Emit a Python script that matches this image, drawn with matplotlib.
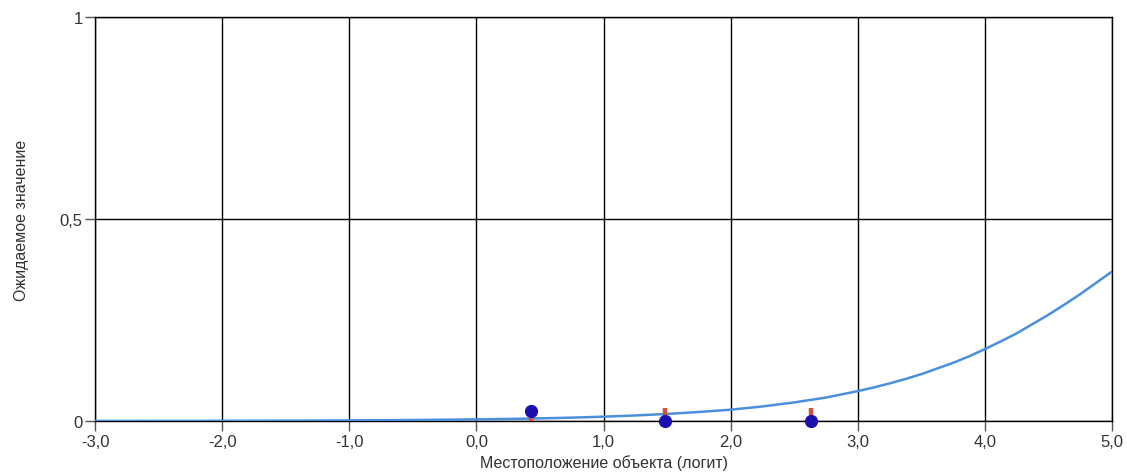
import matplotlib.pyplot as plt

plt.rcParams['font.family'] = ['Liberation Sans', 'DejaVu Sans']

# expected score curve
curve_x = [-3.0, -2.5, -2.0, -1.5, -1.0, -0.5, 0.0, 0.25, 0.5, 0.75, 1.0, 1.25,
           1.5, 1.75, 2.0, 2.25, 2.5, 2.75, 3.0, 3.125, 3.25, 3.375, 3.5, 3.625,
           3.75, 3.875, 4.0, 4.125, 4.25, 4.375, 4.5, 4.625, 4.75, 4.875, 5.0]
curve_y = [0.0002, 0.0003, 0.0005, 0.0009, 0.0015, 0.0024, 0.004, 0.0051, 0.0065,
           0.0083, 0.0107, 0.0137, 0.0175, 0.0223, 0.028, 0.036, 0.046, 0.058,
           0.074, 0.083, 0.093, 0.104, 0.116, 0.130, 0.144, 0.160, 0.178, 0.197,
           0.217, 0.240, 0.263, 0.288, 0.314, 0.342, 0.370]

# observed points
obs_x = [0.43, 1.48, 2.63]
obs_y = [0.025, 0.0, 0.0]
bar_lo = [0.0, 0.0, 0.0]
bar_hi = [0.025, 0.033, 0.033]

xticks = [-3, -2, -1, 0, 1, 2, 3, 4, 5]
xlabels = ['-3,0', '-2,0', '-1,0', '0,0', '1,0', '2,0', '3,0', '4,0', '5,0']
yticks = [0, 0.5, 1]
ylabels = ['0', '0,5', '1']

fig = plt.figure(figsize=(11.27, 4.77), dpi=100)
ax = fig.add_axes([0.0843, 0.1153, 0.9024, 0.847])

ax.plot(curve_x, curve_y, color='#4a8fdc', linewidth=1.8, zorder=3)
ax.vlines(obs_x, bar_lo, bar_hi, color='#d2553a', linewidth=3.2, zorder=4, clip_on=False)
ax.plot(obs_x, obs_y, 'o', color='#1a10b0', markersize=8.5, zorder=5, clip_on=False)

ax.set_xlim(-3, 5)
ax.set_ylim(0, 1)
ax.set_xticks(xticks)
ax.set_xticklabels(xlabels)
ax.set_yticks(yticks)
ax.set_yticklabels(ylabels)
ax.grid(True, color='black', linewidth=1)
ax.set_axisbelow(True)
for s in ax.spines.values():
    s.set_color('black')
    s.set_linewidth(1)
ax.tick_params(direction='out', length=7, width=1, color='#555555',
               labelsize=12, labelcolor='#333333', pad=2)

ax.set_xlabel('Местоположение объекта (логит)', fontsize=11.5, color='#333333', labelpad=4)
ax.set_ylabel('Ожидаемое значение', fontsize=11.5, color='#333333', labelpad=22)

fig.savefig('out.png', dpi=100)
